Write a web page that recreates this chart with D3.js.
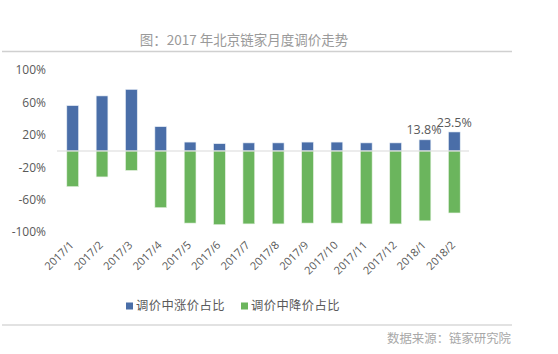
<!DOCTYPE html>
<html>
<head>
<meta charset="utf-8">
<script src="https://cdn.jsdelivr.net/npm/d3@7"></script>
<style>
  body { margin: 0; background: #fff; }
  svg { display: block; font-family: "Noto Sans CJK SC", "Microsoft YaHei", sans-serif; }
</style>
</head>
<body>
<div id="chart"></div>
<script>
// 2017 Beijing Lianjia monthly price adjustment chart

var months = ["2017/1", "2017/2", "2017/3", "2017/4", "2017/5", "2017/6", "2017/7",
              "2017/8", "2017/9", "2017/10", "2017/11", "2017/12", "2018/1", "2018/2"];
var upShare = [56, 68, 76, 30, 11, 9, 10, 10, 11, 11, 10, 10, 13.8, 23.5];
var downShare = [-44, -32, -24, -70, -89, -91, -90, -90, -89, -89, -90, -90, -86.2, -76.5];
var yTicks = [100, 60, 20, -20, -60, -100];
var labelled = ["2018/1", "2018/2"];

var seriesNames = ["调价中涨价占比", "调价中降价占比"];
var colors = ["#4a6ea8", "#6bb55d"];

(function () {
    const W = 558, H = 354;
    const margin = { top: 70, left: 58, right: 89, bottom: 122 };
    const width = W - margin.left - margin.right,
        height = H - margin.top - margin.bottom;

    const svg = d3.select("#chart").append("svg")
        .attr("width", W).attr("height", H);

    // title and rules
    svg.append("text")
        .attr("x", 244).attr("y", 45)
        .attr("text-anchor", "middle")
        .attr("font-size", "13.5px")
        .attr("fill", "#9a9a9a")
        .text("图：2017 年北京链家月度调价走势");

    svg.append("line").attr("x1", 2).attr("x2", 512).attr("y1", 51.5).attr("y2", 51.5)
        .attr("stroke", "#d0d0d0").attr("stroke-width", 1.5);
    svg.append("line").attr("x1", 2).attr("x2", 512).attr("y1", 325).attr("y2", 325)
        .attr("stroke", "#d8d8d8").attr("stroke-width", 1.5);

    svg.append("text")
        .attr("x", 511).attr("y", 343)
        .attr("text-anchor", "end")
        .attr("font-size", "12.4px")
        .attr("fill", "#a8a8a8")
        .text("数据来源：链家研究院");

    const g = svg.append("g")
        .attr("transform", "translate(" + margin.left + "," + margin.top + ")");

    const x = d3.scaleBand().domain(months).range([0, width]).paddingInner(0.6).paddingOuter(0.3);
    const y = d3.scaleLinear().domain([-100, 100]).range([height, 0]);

    // y axis labels
    const yAxis = d3.axisLeft(y).tickValues(yTicks).tickSize(0).tickPadding(12)
        .tickFormat(d => d + "%");
    g.append("g").call(yAxis)
        .call(s => s.select(".domain").remove())
        .selectAll("text")
        .attr("font-size", "12px")
        .attr("fill", "#595959")
        .attr("font-family", "'Open Sans', 'DejaVu Sans', sans-serif");

    // x axis labels, rotated
    const xAxis = d3.axisBottom(x).tickSize(0).tickPadding(0);
    g.append("g")
        .attr("transform", "translate(0," + height + ")")
        .call(xAxis)
        .call(s => s.select(".domain").remove())
        .selectAll("text")
        .attr("font-size", "11px")
        .attr("fill", "#595959")
        .attr("font-family", "'Open Sans', 'DejaVu Sans', sans-serif")
        .attr("text-anchor", "end")
        .attr("dy", "0.35em")
        .attr("transform", "translate(-1,11) rotate(-45)");

    // bars
    g.selectAll("rect.up").data(months).enter().append("rect")
        .attr("class", "up")
        .attr("x", d => x(d))
        .attr("width", x.bandwidth())
        .attr("y", (d, i) => y(upShare[i]))
        .attr("height", (d, i) => y(0) - y(upShare[i]))
        .attr("fill", colors[0])
        .attr("stroke", "#e4ecf5").attr("stroke-width", 0.6);

    g.selectAll("rect.down").data(months).enter().append("rect")
        .attr("class", "down")
        .attr("x", d => x(d))
        .attr("width", x.bandwidth())
        .attr("y", y(0))
        .attr("height", (d, i) => y(downShare[i]) - y(0))
        .attr("fill", colors[1])
        .attr("stroke", "#e6f2e2").attr("stroke-width", 0.6);

    // zero line
    g.append("line")
        .attr("x1", -1).attr("x2", width)
        .attr("y1", y(0)).attr("y2", y(0))
        .attr("stroke", "#d9d9d9").attr("stroke-width", 1);

    // value labels for last two months
    g.selectAll("text.val").data(labelled).enter().append("text")
        .attr("class", "val")
        .attr("x", d => x(d) + x.bandwidth() / 2 + (d === "2018/1" ? -1 : 0))
        .attr("y", d => y(upShare[months.indexOf(d)]) - (d === "2018/1" ? 6 : 5))
        .attr("text-anchor", "middle")
        .attr("font-size", "12.5px")
        .attr("fill", "#595959")
        .attr("font-family", "'Open Sans', 'DejaVu Sans', sans-serif")
        .text(d => upShare[months.indexOf(d)] + "%");

    // legend
    const legendX = [126, 241];
    const legend = svg.selectAll("g.legend").data(seriesNames).enter().append("g")
        .attr("class", "legend")
        .attr("transform", (d, i) => "translate(" + legendX[i] + ",306)");
    legend.append("rect")
        .attr("x", 0).attr("y", -3.5).attr("width", 7).attr("height", 7)
        .attr("fill", (d, i) => colors[i]);
    legend.append("text")
        .attr("x", 10).attr("y", 0).attr("dy", "0.36em")
        .attr("font-size", "12.3px")
        .attr("letter-spacing", "0.4px")
        .attr("fill", "#595959")
        .text(d => d);
})();
</script>
</body>
</html>
